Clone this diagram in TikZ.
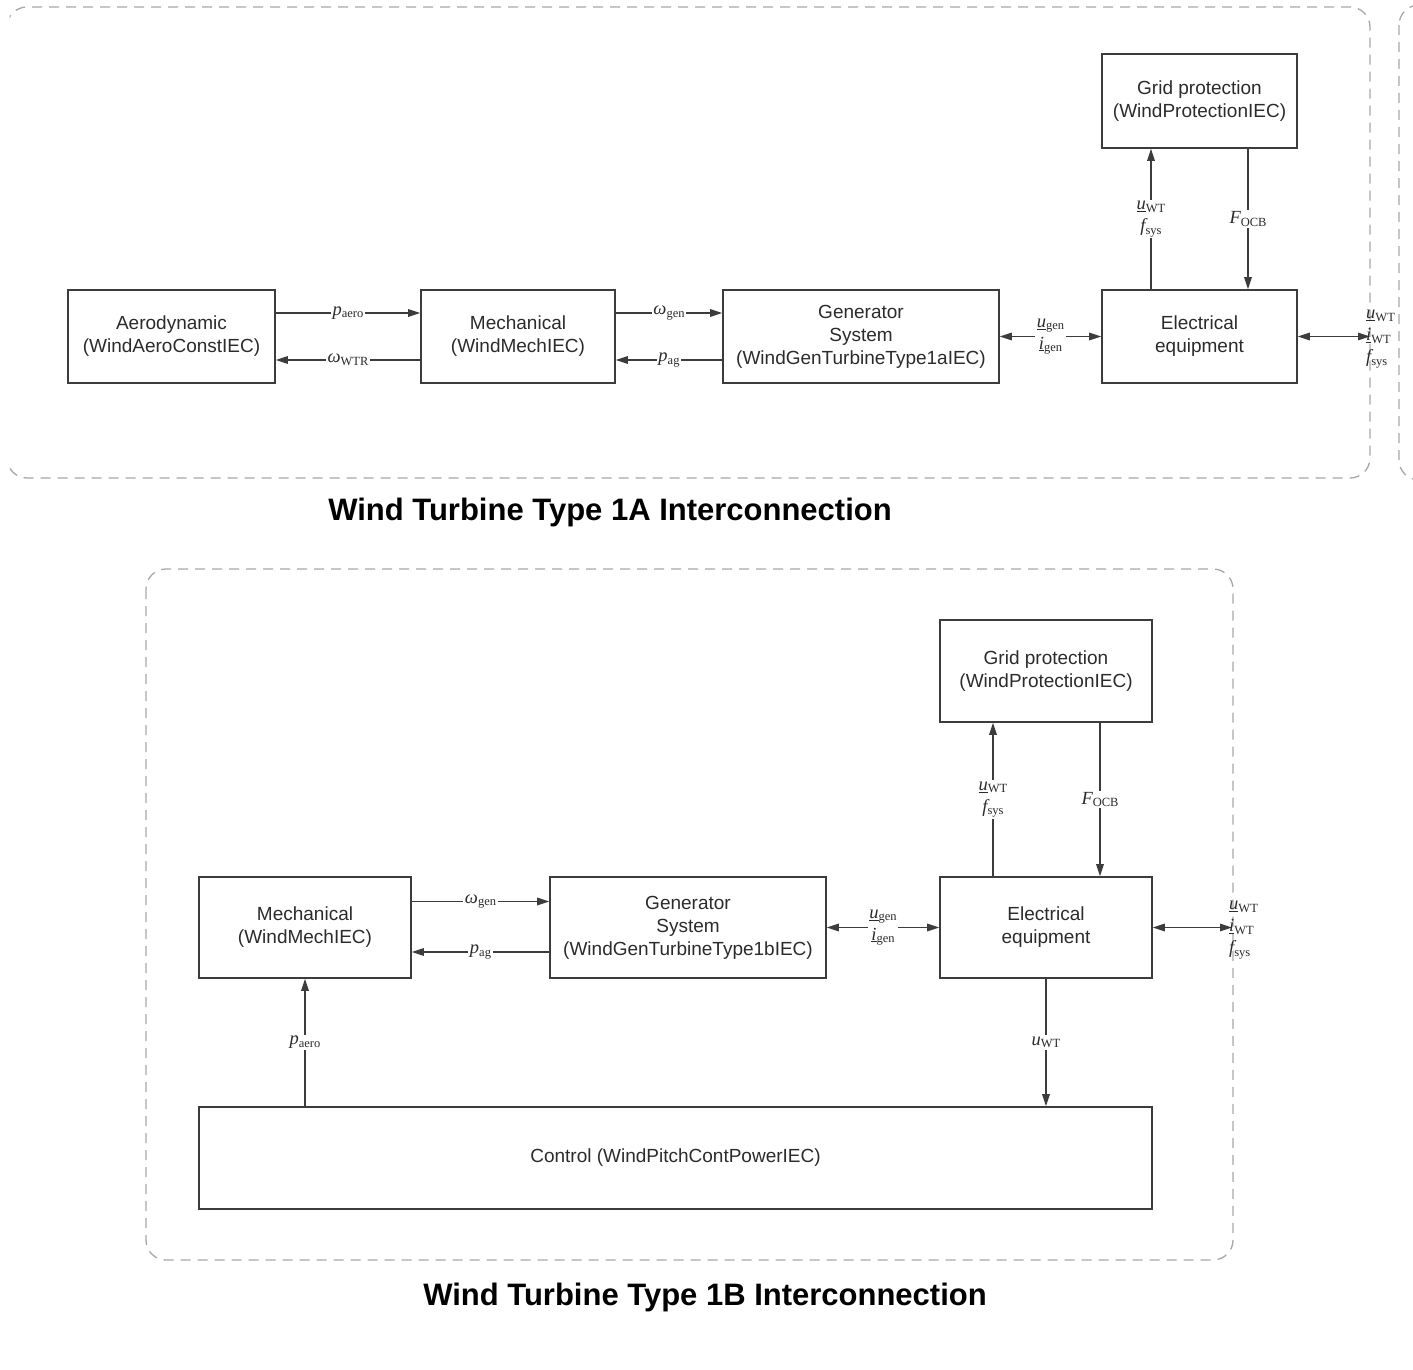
\documentclass[tikz,border=0pt]{standalone}
\usepackage{fontspec}
\setmainfont{Liberation Sans}
\newfontfamily\labfont{Liberation Serif}
\usetikzlibrary{arrows.meta}
\definecolor{boxc}{HTML}{3C3C3C}
\definecolor{txtc}{HTML}{2B2B2B}
\definecolor{dashc}{HTML}{A8A8A8}
\newcommand\lsub[1]{\raisebox{-0.3ex}{\fontsize{12.5}{12.5}\selectfont #1}}
\newcommand\ivar[1]{{\itshape #1}}
\begin{document}
\begin{tikzpicture}[x=1pt,y=-1pt,
  blk/.style={draw=boxc, line width=1.6pt, text=txtc, font=\fontsize{19}{23}\selectfont, align=center, inner sep=0pt},
  conn/.style={draw=boxc, line width=1.4pt, -{Triangle[length=12pt,width=7.5pt]}},
  dconn/.style={draw=boxc, line width=1.4pt, {Triangle[length=12pt,width=7.5pt]}-{Triangle[length=12pt,width=7.5pt]}},
  lab/.style={fill=white, text=txtc, font=\labfont\fontsize{18.5}{22}\selectfont, inner sep=1.5pt, align=center},
  sidelab/.style={text=txtc, font=\labfont\fontsize{18.5}{22}\selectfont, inner sep=0pt, align=left, anchor=west},
  grp/.style={draw=dashc, line width=1.3pt, dash pattern=on 10pt off 7pt, rounded corners=20pt},
  ttl/.style={font=\bfseries\fontsize{31}{36}\selectfont, text=black}
]
\useasboundingbox (0,0) rectangle (1413,1370);

% ---------- group frames ----------
\begin{scope}
  \clip (9.5,0) rectangle (1413,1370);
  \draw[grp] (7,7) rectangle (1370,478);
  \draw[grp] (1399,5) rectangle (1450,480);
\end{scope}
\draw[grp] (146,569) rectangle (1233,1260);

% ---------- Type 1A ----------
\node[blk, minimum width=207pt, minimum height=93pt] (aero) at (171.5,336.5) {Aerodynamic\\(WindAeroConstIEC)};
\node[blk, minimum width=194pt, minimum height=93pt] (mechA) at (518,336.5) {Mechanical\\(WindMechIEC)};
\node[blk, minimum width=276pt, minimum height=93pt] (genA) at (861,336.5) {Generator\\System\\(WindGenTurbineType1aIEC)};
\node[blk, minimum width=195pt, minimum height=93pt] (elecA) at (1199.5,336.5) {Electrical\\equipment};
\node[blk, minimum width=195pt, minimum height=94pt] (gridA) at (1199.5,101) {Grid protection\\(WindProtectionIEC)};

\draw[conn] ([yshift=23.5pt]aero.east) -- node[lab]{\ivar{p}\lsub{aero}} ([yshift=23.5pt]mechA.west);
\draw[conn] ([yshift=-23.5pt]mechA.west) -- node[lab]{\ivar{ω}\lsub{WTR}} ([yshift=-23.5pt]aero.east);
\draw[conn] ([yshift=23.5pt]mechA.east) -- node[lab]{\ivar{ω}\lsub{gen}} ([yshift=23.5pt]genA.west);
\draw[conn] ([yshift=-23.5pt]genA.west) -- node[lab]{\ivar{p}\lsub{ag}} ([yshift=-23.5pt]mechA.east);
\draw[dconn] (genA.east) -- node[lab]{\underline{\ivar{u}}\lsub{gen}\\\underline{\ivar{i}}\lsub{gen}} (elecA.west);
\draw[conn] ([xshift=-48.5pt]elecA.north) -- node[lab]{\underline{\ivar{u}}\lsub{WT}\\\ivar{f}\lsub{sys}} ([xshift=-48.5pt]gridA.south);
\draw[conn] ([xshift=48.5pt]gridA.south) -- node[lab]{\ivar{F}\lsub{OCB}} ([xshift=48.5pt]elecA.north);
\coordinate (portA) at (1370,336.5);
\draw[dconn] (elecA.east) -- (portA);
\node[sidelab] (portAlab) at (1366,339) {\underline{\ivar{u}}\lsub{WT}\\\underline{\ivar{i}}\lsub{WT}\\\ivar{f}\lsub{sys}};

\node[ttl] (titleA) at (610,512) {Wind Turbine Type 1A Interconnection};

% ---------- Type 1B ----------
\node[blk, minimum width=212pt, minimum height=102pt] (gridB) at (1046,671) {Grid protection\\(WindProtectionIEC)};
\node[blk, minimum width=212pt, minimum height=101pt] (mechB) at (305,927.5) {Mechanical\\(WindMechIEC)};
\node[blk, minimum width=276pt, minimum height=101pt] (genB) at (688,927.5) {Generator\\System\\(WindGenTurbineType1bIEC)};
\node[blk, minimum width=212pt, minimum height=101pt] (elecB) at (1046,927.5) {Electrical\\equipment};
\node[blk, minimum width=953pt, minimum height=102pt] (ctrl) at (675.5,1158) {Control (WindPitchContPowerIEC)};

\draw[conn] ([yshift=26pt]mechB.east) -- node[lab]{\ivar{ω}\lsub{gen}} ([yshift=26pt]genB.west);
\draw[conn] ([yshift=-24.5pt]genB.west) -- node[lab]{\ivar{p}\lsub{ag}} ([yshift=-24.5pt]mechB.east);
\draw[dconn] (genB.east) -- node[lab]{\underline{\ivar{u}}\lsub{gen}\\\underline{\ivar{i}}\lsub{gen}} (elecB.west);
\draw[conn] ([xshift=-53pt]elecB.north) -- node[lab]{\underline{\ivar{u}}\lsub{WT}\\\ivar{f}\lsub{sys}} ([xshift=-53pt]gridB.south);
\draw[conn] ([xshift=54pt]gridB.south) -- node[lab]{\ivar{F}\lsub{OCB}} ([xshift=54pt]elecB.north);
\coordinate (portB) at (1232,927.5);
\draw[dconn] (elecB.east) -- (portB);
\node[sidelab] (portBlab) at (1229,930) {\underline{\ivar{u}}\lsub{WT}\\\underline{\ivar{i}}\lsub{WT}\\\ivar{f}\lsub{sys}};
\draw[conn] (mechB.south |- ctrl.north) -- node[lab]{\ivar{p}\lsub{aero}} (mechB.south);
\draw[conn] (elecB.south) -- node[lab]{\ivar{u}\lsub{WT}} (elecB.south |- ctrl.north);

\node[ttl] (titleB) at (705,1297) {Wind Turbine Type 1B Interconnection};
\end{tikzpicture}
\end{document}
